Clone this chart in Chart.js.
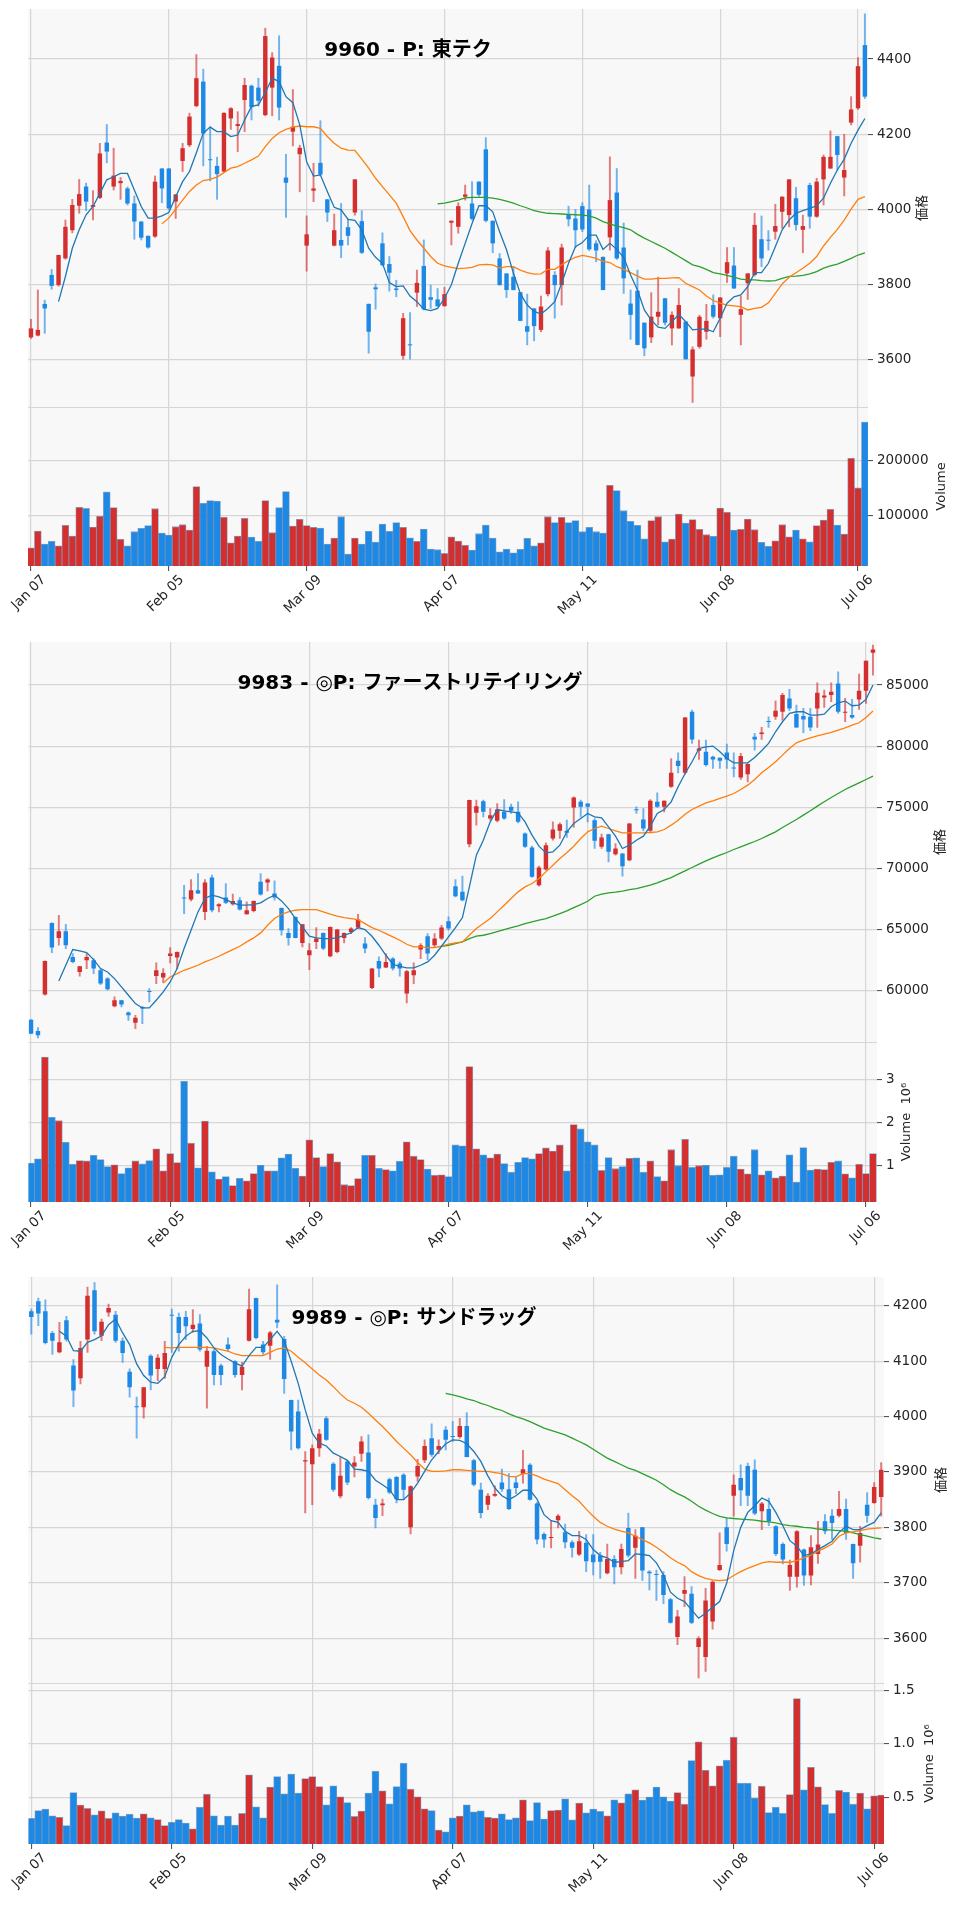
<!DOCTYPE html>
<html lang="ja">
<head>
<meta charset="UTF-8" />
<title>Candlestick panels</title>
<script src="https://cdn.jsdelivr.net/npm/chart.js@4"></script>
<style>
	body { margin: 0; background: #ffffff; }
	#wrap { position: relative; width: 960px; height: 1911px; overflow: hidden; background: #ffffff; }
	#wrap canvas { position: absolute; left: 0; }
</style>
</head>
<body>
<div id="wrap"></div>
<script>
const tickIndex = [0, 20, 40, 60, 80, 100, 120];
const tickLabels = ['Jan 07', 'Feb 05', 'Mar 09', 'Apr 07', 'May 11', 'Jun 08', 'Jul 06'];
const maStart = [4, 19, 59];

// 9960 東テク
const open9960 = [3660,3665,3749,3826,3799,3870,3945,4010,4061,4007,4031,4178,4061,4070,4056,4016,3968,3930,3928,4109,4109,4021,4129,4171,4275,4340,4133,4116,4101,4242,4222,4291,4329,4324,4251,4324,4382,4085,4207,4147,3904,4050,4124,4027,3904,3919,3953,3992,3969,3749,3793,3910,3855,3790,3611,3641,3779,3850,3767,3761,3743,3965,3954,4034,4016,4074,4160,3970,3870,3830,3821,3780,3690,3737,3680,3775,3826,3799,3988,3976,4009,4000,3910,3874,3926,4045,3899,3750,3784,3699,3660,3715,3764,3684,3684,3702,3556,3635,3675,3746,3711,3830,3851,3720,3804,3826,3921,3918,3941,3994,3985,4030,3946,4065,3981,4080,4109,4195,4085,4231,4269,4437];
const high9960 = [3708,3786,3759,3841,3879,3972,4027,4080,4070,4050,4176,4226,4163,4085,4060,4036,3968,3930,4089,4109,4109,4040,4176,4256,4412,4373,4220,4139,4257,4271,4260,4349,4331,4349,4482,4417,4462,4147,4319,4171,3983,4123,4236,4027,3988,4016,3975,4080,3997,3749,3802,3938,3875,3812,3724,3726,3839,3919,3799,3790,3793,3970,4018,4065,4074,4074,4191,3970,3883,3830,3848,3780,3775,3737,3770,3899,3835,3908,4009,4000,4018,4065,3917,3874,4140,4109,3964,3786,3839,3699,3779,3820,3764,3728,3790,3702,3635,3719,3748,3773,3766,3899,3899,3770,3830,3990,3983,3944,4014,4034,4080,4059,3985,4070,4083,4145,4209,4195,4200,4300,4404,4520];
const low9960 = [3657,3664,3671,3788,3796,3868,3938,3990,3997,3972,4029,4124,4052,4027,4012,3921,3919,3897,3926,4018,4000,3976,4101,4167,4273,4116,4076,4027,4098,4213,4154,4207,4238,4275,4249,4249,4238,3979,4169,4047,3836,4021,4089,3968,3903,3872,3906,3985,3883,3618,3735,3850,3783,3768,3602,3602,3742,3733,3737,3742,3743,3906,3937,4025,3972,4035,3967,3885,3799,3766,3786,3704,3640,3651,3675,3770,3711,3746,3956,3899,3941,3891,3861,3786,3892,3867,3777,3655,3640,3611,3646,3693,3693,3640,3684,3602,3487,3631,3655,3711,3662,3806,3790,3640,3761,3823,3848,3892,3921,3950,3954,3945,3885,3950,3979,4012,4109,4105,4036,4225,4266,4295];
const close9960 = [3684,3680,3737,3797,3879,3954,4012,4041,4021,4012,4149,4154,4090,4076,4016,3968,3925,3899,4074,4056,4003,4040,4163,4247,4349,4202,4131,4094,4257,4269,4227,4331,4272,4289,4461,4404,4271,4071,4220,4164,3934,4056,4093,3992,3945,3904,3930,4080,3885,3675,3788,3852,3832,3786,3711,3639,3805,3735,3760,3743,3775,3970,4009,4040,3975,4039,3970,3910,3799,3786,3786,3704,3675,3690,3742,3891,3799,3899,3974,3945,3947,3894,3891,3786,4025,3870,3817,3720,3640,3631,3715,3728,3699,3720,3746,3602,3628,3715,3704,3715,3766,3860,3790,3735,3830,3959,3870,3917,3956,4034,4080,3959,3956,3981,4074,4140,4140,4145,4105,4266,4381,4300];
const vol9960 = [42200,72300,48800,53600,45800,82500,63300,115000,113000,79500,98800,142800,114500,57200,45800,71100,77100,82000,112600,68700,65100,80100,83700,74100,152400,122300,127100,126500,97000,51200,63300,95200,61400,53600,127100,69300,114500,143400,81300,93400,82000,78900,77700,48800,59600,98200,30700,59600,48800,71700,52400,84900,71700,87400,78900,60200,53600,75900,39800,38600,31900,62000,54200,46400,38000,67500,83100,59600,34900,39800,33100,39200,59000,45800,51200,98200,87400,97000,87400,91000,71100,78900,71100,68700,154800,145200,109000,89800,82500,58400,91000,98200,53000,57800,103000,86700,92800,75300,65700,62700,113900,106000,74100,75300,94000,74700,51800,44600,54800,83700,62000,74100,58400,53000,82000,92200,111400,83100,66900,203600,150000,268700];
const ma5_9960 = [3755,3822,3897,3946,3986,4008,4043,4079,4087,4096,4096,4052,4008,3977,3977,3983,3992,4034,4074,4101,4151,4203,4219,4207,4207,4194,4198,4238,4274,4278,4311,4349,4340,4300,4284,4225,4127,4089,4092,4048,4006,3999,3974,3971,3946,3897,3873,3857,3806,3795,3797,3770,3755,3735,3731,3737,3764,3800,3857,3910,3963,4010,4010,3994,3941,3893,3831,3777,3746,3729,3722,3737,3755,3804,3857,3901,3912,3932,3932,3894,3910,3894,3873,3826,3786,3733,3706,3687,3684,3702,3721,3702,3680,3682,3682,3675,3711,3751,3768,3773,3795,3832,3832,3857,3901,3946,3972,3990,3997,4003,4010,4030,4070,4105,4134,4176,4211,4242];
const ma20_9960 = [3962,3977,4001,4025,4048,4065,4077,4080,4086,4098,4110,4114,4123,4132,4142,4167,4189,4204,4213,4219,4222,4220,4220,4216,4194,4176,4163,4158,4157,4134,4110,4083,4061,4039,4017,3981,3944,3919,3897,3875,3857,3850,3846,3843,3844,3846,3853,3854,3853,3844,3848,3848,3839,3832,3828,3829,3841,3841,3853,3864,3873,3878,3875,3870,3862,3859,3848,3841,3832,3823,3815,3815,3817,3817,3818,3819,3804,3795,3786,3770,3758,3751,3746,3744,3742,3733,3737,3740,3752,3777,3802,3820,3832,3844,3857,3875,3903,3926,3947,3972,4001,4027,4034];
const ma60_9960 = [4015,4017,4021,4025,4031,4032,4032,4032,4030,4027,4022,4017,4010,4004,3997,3993,3990,3989,3988,3987,3986,3985,3983,3977,3968,3962,3956,3952,3946,3934,3924,3915,3906,3897,3886,3875,3864,3853,3848,3841,3832,3829,3825,3820,3815,3813,3813,3811,3810,3811,3817,3822,3823,3825,3829,3835,3844,3850,3855,3862,3870,3879,3885];
const priceTicks9960 = [3600, 3800, 4000, 4200, 4400];
const volTicks9960 = [100000, 200000];

// 9983 ファーストリテイリング
const open9983 = [57658,56730,59702,65563,64337,64882,62783,61556,62510,62510,61692,61011,58749,59240,58231,57413,58694,60002,61229,61093,62865,62728,67636,67473,68236,66463,69271,66925,67636,67091,67418,66273,66545,68917,68862,67963,66790,64746,66054,63928,62920,64010,64746,62838,63192,64337,64828,65182,63873,60248,62456,61911,62647,62238,59784,61284,63383,64473,63737,64282,65700,68562,68099,72000,74560,75514,74096,73905,74642,75050,74642,72869,71725,68644,69925,72460,73088,73088,74996,75459,75323,73960,71779,72815,71180,71234,70688,74832,74014,73088,75459,75050,76686,78812,77830,82820,79629,79548,79139,79057,79493,78267,77449,77721,80775,80993,82056,82410,82819,83910,82628,82465,82410,83092,83991,84182,85136,82737,82546,83828,84537,87644];
const high9983 = [57658,57006,62456,65563,66190,65455,63056,62020,63056,62647,61829,61093,59512,59240,58286,58013,58749,60193,62293,61829,63546,63192,68644,69108,69598,69108,69462,67145,68780,67909,67636,67281,67363,69598,69190,68999,66790,65101,66054,65455,63873,65182,64746,65237,65019,64746,65182,66272,64364,61829,62783,63056,62728,62374,61692,62293,63873,64692,64692,65373,66054,69108,69380,75600,75600,75600,74915,75323,75650,75269,75459,72924,71834,70198,72106,73823,73741,73960,75868,75596,75323,74096,72815,72815,72052,71234,73686,75050,74914,75650,76195,75541,79002,79467,82356,82956,80502,80502,79194,79057,80175,79467,79412,78594,81047,81538,82410,83719,84318,84645,83364,83092,83092,85191,84591,85191,86090,83910,83828,85899,86990,88271];
const low9983 = [56513,56158,59648,63137,63737,63464,62293,61202,61829,61420,60520,60057,58694,58694,57603,56922,57331,59103,60602,60684,62293,61829,66327,67363,67963,65836,66463,66463,67145,67009,66599,66273,66463,67826,68180,67418,64555,63737,64337,63601,61747,63464,63383,62783,63110,63928,64692,65101,63110,60193,61147,61911,61692,61202,59022,60602,62647,62565,63601,64201,64964,67690,67363,71780,73550,74233,73960,73823,74014,74505,73741,71725,69271,68562,69870,72324,72460,72542,73360,74233,73823,71643,71643,70552,71097,69380,70634,74505,73088,73005,74996,74642,76631,77830,77721,80230,78921,78376,78185,78185,78185,77503,77285,77095,79684,80557,81538,82192,82137,82901,81538,81102,81266,81538,83173,83637,82683,82001,82274,83010,83500,85817];
const close9983 = [56513,56377,62456,63546,64882,63737,62374,62020,62783,61829,60602,60138,59240,58885,58013,57821,58558,59921,61692,61474,63056,63192,67554,68236,67963,68862,66599,67091,67200,67363,66654,66599,67363,67881,69108,67636,64964,64337,64337,65455,63328,64282,63464,65237,65019,64746,65101,65836,63464,61829,61829,62374,61829,61829,61611,61692,63737,63056,64282,65182,65101,67745,67418,75600,75105,74642,74369,74833,74096,74724,73823,71779,69325,70089,71915,73192,73632,72924,75814,75050,75050,72270,72542,71370,71643,70198,73686,74778,73278,75541,75050,75541,77830,78376,82356,80557,79820,78458,78921,78812,78921,78185,79194,78540,80557,81129,81974,82901,84182,83092,81538,82192,81538,84373,84155,84455,82819,82819,82356,84537,86990,87917];
const vol9983 = [1.06,1.16,3.51,2.12,2.04,1.54,1.03,1.12,1.11,1.24,1.14,0.98,1.02,0.82,0.95,1.11,1.04,1.12,1.39,0.88,1.28,1.07,2.95,1.52,0.95,2.03,0.86,0.69,0.75,0.54,0.71,0.65,0.82,1.01,0.88,0.88,1.18,1.27,0.94,0.76,1.60,1.19,0.98,1.28,1.09,0.56,0.54,0.70,1.24,1.24,0.94,0.91,0.88,1.10,1.55,1.22,1.14,0.92,0.78,0.79,0.75,1.48,1.46,3.29,1.39,1.25,1.18,1.27,1.05,0.85,1.08,1.19,1.16,1.28,1.41,1.34,1.48,0.88,1.95,1.85,1.55,1.48,0.89,1.19,0.93,0.98,1.17,1.18,0.85,1.11,0.75,0.65,1.37,1.00,1.61,0.96,1.00,1.01,0.78,0.79,0.96,1.22,0.92,0.81,1.37,0.79,0.88,0.72,0.76,1.25,0.62,1.42,0.90,0.92,0.91,1.08,1.11,0.81,0.72,1.03,0.82,1.28];
const ma5_9983 = [60820,62101,63383,63274,63137,62565,61829,61557,61011,60330,59648,58967,58612,58612,59240,59921,60739,61829,63465,64964,66463,67555,67827,67690,67472,67199,67008,67008,67062,67199,67555,67827,67363,66736,65918,65236,64473,64337,64282,64282,64337,64555,64745,65182,65018,64473,63737,62919,62184,62020,61884,61884,62101,62374,62919,63655,64419,65182,66000,68508,71097,72324,73823,74832,74723,74641,74559,73823,72733,71834,71288,71370,71915,73005,73687,74096,74505,74232,74150,73414,72651,71643,71915,72324,72651,73469,74505,74832,75459,76686,77776,78730,79820,79957,80011,79548,79002,78648,78648,78648,79085,79630,80229,81184,82001,82683,82819,82819,82547,82547,82628,83228,83555,83692,83310,83364,83828,85000];
const ma20_9983 = [60657,61147,61420,61693,61883,62101,62374,62592,62838,63110,63383,63655,64010,64337,64746,65373,65918,66272,66463,66599,66654,66654,66654,66463,66272,66109,66000,65918,65836,65509,65182,64964,64691,64419,64146,63819,63601,63601,63546,63546,63655,63819,63928,64010,64555,65100,65509,65918,66463,67008,67555,68099,68508,68780,69189,69734,70280,70825,71289,71834,72460,73005,73278,73469,73278,73087,72924,72924,72924,72924,72951,73005,73196,73551,73960,74450,74832,75105,75377,75541,75732,75923,76140,76468,76822,77285,77830,78267,78730,79275,79820,80284,80502,80689,80856,80993,81129,81320,81511,81729,81920,82356,82874];
const ma60_9983 = [63655,63737,63874,64010,64283,64474,64555,64691,64855,65018,65182,65318,65509,65645,65782,65918,66109,66327,66545,66818,67063,67335,67744,67908,68017,68071,68153,68290,68371,68508,68644,68835,69053,69271,69544,69817,70089,70362,70634,70880,71098,71316,71561,71779,71997,72215,72460,72733,73005,73360,73687,74014,74369,74723,75105,75459,75814,76140,76468,76740,77013,77285,77558];
const priceTicks9983 = [60000, 65000, 70000, 75000, 80000, 85000];
const volTicks9983 = [1, 2, 3];

// 9989 サンドラッグ
const open9989 = [4190,4208,4190,4151,4116,4174,4092,4069,4139,4228,4146,4188,4184,4137,4081,4018,4017,4110,4086,4086,4184,4180,4180,4158,4168,4090,4118,4092,4130,4100,4075,4137,4214,4130,4128,4175,4140,4030,4009,3919,3914,3943,3997,3915,3856,3919,3910,3933,3935,3841,3840,3887,3891,3895,3800,3892,3921,3961,3940,3976,3964,3963,3983,3921,3868,3841,3857,3881,3869,3881,3897,3913,3843,3788,3781,3813,3791,3773,3751,3772,3751,3749,3717,3743,3728,3799,3763,3800,3720,3716,3714,3670,3602,3680,3680,3584,3566,3630,3723,3800,3857,3889,3911,3904,3829,3833,3802,3770,3711,3711,3760,3713,3752,3811,3821,3821,3833,3770,3767,3841,3844,3855];
const high9989 = [4194,4214,4211,4154,4170,4181,4103,4136,4234,4242,4176,4203,4190,4142,4086,4035,4053,4112,4112,4136,4194,4187,4190,4193,4184,4127,4121,4095,4142,4101,4098,4230,4214,4136,4154,4238,4145,4030,4030,3937,3949,3977,4000,3917,3928,3921,3928,3964,3967,3851,3851,3889,3892,3897,3875,3923,3958,3987,3958,3982,3991,3997,4007,3923,3880,3861,3875,3905,3897,3891,3939,3915,3845,3790,3812,3823,3806,3776,3793,3787,3787,3755,3770,3749,3770,3826,3796,3800,3722,3723,3720,3672,3650,3711,3693,3603,3690,3704,3790,3817,3895,3913,3916,3922,3845,3853,3803,3772,3741,3794,3761,3785,3811,3823,3832,3865,3851,3770,3802,3863,3881,3917];
const low9989 = [4149,4164,4131,4112,4115,4136,4018,4059,4116,4149,4137,4181,4134,4098,4035,3961,3997,4048,4065,4069,4116,4118,4139,4152,4118,4015,4057,4057,4118,4071,4048,4136,4140,4112,4103,4160,4042,3940,3941,3826,3841,3928,3957,3865,3853,3877,3891,3919,3851,3799,3821,3861,3844,3850,3788,3883,3917,3928,3933,3940,3955,3961,3927,3875,3817,3832,3856,3865,3832,3861,3880,3849,3770,3764,3763,3799,3763,3746,3749,3720,3714,3708,3716,3698,3716,3746,3708,3704,3687,3668,3662,3627,3588,3657,3626,3528,3540,3616,3722,3757,3820,3839,3839,3823,3796,3803,3749,3734,3686,3692,3695,3696,3735,3788,3778,3819,3778,3708,3737,3809,3843,3820];
const close9989 = [4180,4186,4133,4137,4134,4139,4047,4124,4218,4154,4171,4196,4137,4115,4053,4017,4053,4074,4106,4115,4182,4151,4163,4166,4121,4119,4075,4075,4122,4075,4090,4194,4142,4116,4152,4170,4068,3973,3943,3921,3943,3969,3958,3868,3893,3881,3917,3955,3853,3817,3843,3863,3851,3868,3874,3911,3947,3931,3947,3958,3963,3983,3927,3877,3826,3857,3860,3869,3833,3871,3905,3850,3778,3778,3782,3821,3773,3763,3775,3739,3737,3738,3743,3728,3761,3749,3785,3722,3717,3714,3678,3628,3639,3687,3628,3600,3668,3702,3732,3770,3877,3867,3857,3825,3843,3811,3752,3742,3732,3793,3713,3764,3769,3793,3808,3833,3790,3735,3790,3821,3873,3904];
const vol9989 = [0.300,0.375,0.388,0.325,0.310,0.234,0.544,0.425,0.394,0.334,0.372,0.300,0.353,0.322,0.340,0.303,0.344,0.306,0.290,0.234,0.263,0.290,0.256,0.203,0.406,0.528,0.325,0.238,0.322,0.238,0.347,0.709,0.410,0.306,0.594,0.694,0.531,0.716,0.538,0.675,0.694,0.600,0.428,0.606,0.503,0.450,0.319,0.369,0.538,0.744,0.559,0.438,0.600,0.819,0.575,0.503,0.391,0.375,0.191,0.175,0.306,0.322,0.428,0.363,0.372,0.310,0.303,0.344,0.290,0.306,0.475,0.281,0.450,0.294,0.375,0.378,0.484,0.288,0.444,0.353,0.388,0.366,0.325,0.475,0.447,0.531,0.569,0.472,0.500,0.594,0.503,0.463,0.544,0.434,0.844,1.019,0.753,0.606,0.794,0.847,1.063,0.631,0.631,0.491,0.603,0.356,0.406,0.347,0.525,1.425,0.569,0.781,0.597,0.431,0.347,0.563,0.547,0.434,0.538,0.391,0.513,0.519];
const ma5_9989 = [4154,4145,4119,4118,4134,4139,4146,4166,4176,4151,4130,4095,4074,4062,4060,4072,4107,4130,4145,4154,4155,4142,4124,4112,4104,4097,4091,4110,4125,4125,4139,4154,4137,4100,4060,4012,3970,3952,3947,3934,3928,3921,3905,3904,3901,3885,3877,3868,3850,3850,3862,3880,3901,3922,3937,3951,3958,3957,3951,3937,3919,3893,3871,3857,3850,3857,3867,3867,3851,3823,3812,3809,3793,3785,3785,3778,3760,3749,3745,3737,3738,3740,3752,3751,3749,3736,3714,3683,3672,3666,3651,3636,3645,3656,3666,3699,3758,3800,3827,3839,3853,3847,3827,3803,3776,3766,3749,3752,3760,3767,3775,3791,3802,3796,3796,3803,3809,3826];
const ma20_9989 = [4125,4124,4125,4125,4125,4125,4125,4124,4121,4118,4113,4110,4110,4110,4110,4116,4122,4124,4118,4107,4097,4086,4075,4066,4054,4041,4030,4024,4017,4006,3994,3982,3969,3955,3943,3931,3917,3905,3901,3901,3902,3904,3904,3903,3902,3901,3901,3899,3897,3892,3891,3897,3897,3893,3887,3883,3879,3868,3857,3847,3833,3820,3809,3802,3797,3793,3790,3784,3778,3772,3764,3755,3745,3737,3731,3720,3713,3708,3705,3704,3705,3713,3720,3726,3731,3736,3738,3737,3737,3737,3740,3745,3750,3757,3763,3770,3784,3790,3792,3794,3797,3798,3799];
const ma60_9989 = [4042,4039,4036,4032,4029,4024,4020,4015,4011,4005,4000,3996,3991,3985,3979,3975,3971,3967,3961,3955,3949,3941,3933,3925,3919,3913,3907,3903,3897,3891,3885,3877,3868,3861,3855,3847,3838,3831,3825,3820,3817,3816,3815,3814,3813,3811,3810,3808,3805,3803,3802,3800,3799,3797,3796,3795,3794,3793,3790,3787,3784,3781,3779];
const priceTicks9989 = [3600, 3700, 3800, 3900, 4000, 4100, 4200];
const volTicks9989 = [0.5, 1.0, 1.5];

const FONT = '"DejaVu Sans", "Noto Sans CJK JP", sans-serif';
const UP = '#d32f2f';
const DOWN = '#1e88e5';
const UP_WICK = 'rgba(211, 47, 47, 0.62)';
const DOWN_WICK = 'rgba(30, 136, 229, 0.62)';
const MA_COLORS = ['#1f77b4', '#ff7f0e', '#2ca02c'];
const GRID = '#d6d6d6';
const TEXT = '#262626';
const PAD_TOP = 8;
const X_AXIS_H = 70;

Chart.defaults.font.family = FONT;
Chart.defaults.font.size = 13.5;
Chart.defaults.color = TEXT;

const panels = [
	{
		title: '9960 - P: 東テク',
		open: open9960, high: high9960, low: low9960, close: close9960, volume: vol9960,
		ma: [ma5_9960, ma20_9960, ma60_9960],
		priceTicks: priceTicks9960, volTicks: volTicks9960,
		priceRange: [3475, 4533], volRange: [9200, 296000],
		volLabel: 'Volume', volFormat: (v) => String(v),
		box: { priceTop: 9, priceBottom: 407, volBottom: 566, left: 28, right: 868, xMin: -0.43, xMax: 121.45, titleX: 408, priceLabelDx: 55, volLabelDx: 74 },
	},
	{
		title: '9983 - ◎P: ファーストリテイリング',
		open: open9983, high: high9983, low: low9983, close: close9983, volume: vol9983,
		ma: [ma5_9983, ma20_9983, ma60_9983],
		priceTicks: priceTicks9983, volTicks: volTicks9983,
		priceRange: [55830, 88520], volRange: [0.16, 3.86],
		volLabel: 'Volume  10⁶', volFormat: (v) => String(v),
		box: { priceTop: 642, priceBottom: 1042, volBottom: 1202, left: 28.5, right: 877, xMin: -0.36, xMax: 121.58, titleX: 410, priceLabelDx: 64, volLabelDx: 30 },
	},
	{
		title: '9989 - ◎P: サンドラッグ',
		open: open9989, high: high9989, low: low9989, close: close9989, volume: vol9989,
		ma: [ma5_9989, ma20_9989, ma60_9989],
		priceTicks: priceTicks9989, volTicks: volTicks9989,
		priceRange: [3519, 4252], volRange: [0.06, 1.572],
		volLabel: 'Volume  10⁶', volFormat: (v) => v.toFixed(1),
		box: { priceTop: 1277, priceBottom: 1683, volBottom: 1844, left: 28.5, right: 884, xMin: -0.4, xMax: 121.4, titleX: 414, priceLabelDx: 58, volLabelDx: 46 },
	},
];

const addCanvas = (top, height) => {
	const canvas = document.createElement('canvas');
	canvas.width = 960;
	canvas.height = height;
	canvas.style.top = `${top}px`;
	document.getElementById('wrap').appendChild(canvas);
	return canvas;
};

const plotBackground = {
	id: 'plotBackground',
	beforeDraw(chart) {
		const { ctx, chartArea: a } = chart;
		ctx.save();
		ctx.fillStyle = '#f8f8f8';
		ctx.fillRect(a.left, a.top, a.right - a.left, a.bottom - a.top);
		ctx.restore();
	},
};

// thin rule where the volume panel meets the price panel
const panelSeam = {
	id: 'panelSeam',
	beforeDatasetsDraw(chart) {
		const { ctx, chartArea: a } = chart;
		ctx.save();
		ctx.strokeStyle = GRID;
		ctx.lineWidth = 1.2;
		ctx.beginPath();
		ctx.moveTo(a.left, a.top + 0.5);
		ctx.lineTo(a.right, a.top + 0.5);
		ctx.stroke();
		ctx.restore();
	},
};

const sideLabel = (text, dx) => ({
	id: 'sideLabel',
	afterDraw(chart) {
		const { ctx, chartArea: a } = chart;
		ctx.save();
		ctx.translate(a.right + dx, (a.top + a.bottom) / 2);
		ctx.rotate(-Math.PI / 2);
		ctx.font = `13px ${FONT}`;
		ctx.fillStyle = TEXT;
		ctx.textAlign = 'center';
		ctx.textBaseline = 'middle';
		ctx.fillText(text, 0, 0);
		ctx.restore();
	},
});

const panelTitle = (text, x) => ({
	id: 'panelTitle',
	afterDraw(chart) {
		const { ctx, chartArea: a } = chart;
		ctx.save();
		ctx.font = `bold 20px ${FONT}`;
		ctx.fillStyle = '#000000';
		ctx.textAlign = 'center';
		ctx.textBaseline = 'middle';
		ctx.fillText(text, x, a.top + 42);
		ctx.restore();
	},
});

// fixed axis sizes so the plot areas line up with the reference
const xScale = (box, showLabels) => ({
	type: 'linear',
	min: box.xMin,
	max: box.xMax,
	offset: false,
	afterBuildTicks: (scale) => { scale.ticks = tickIndex.map((value) => ({ value })); },
	afterFit: (scale) => {
		scale.height = showLabels ? X_AXIS_H : 0;
		scale.paddingLeft = 0;
		scale.paddingRight = 0;
	},
	grid: { color: GRID, lineWidth: 1.2, offset: false, drawTicks: showLabels, tickLength: 5, tickColor: '#444444', tickWidth: 1 },
	border: { display: false },
	ticks: {
		display: showLabels,
		autoSkip: false,
		maxRotation: 45,
		minRotation: 45,
		padding: 1,
		labelOffset: 13,
		callback: (value) => tickLabels[tickIndex.indexOf(value)],
	},
});

const yScale = (box, range, ticks, format) => ({
	position: 'right',
	min: range[0],
	max: range[1],
	afterBuildTicks: (scale) => { scale.ticks = ticks.map((value) => ({ value })); },
	afterFit: (scale) => {
		scale.width = 960 - box.right;
		scale.paddingTop = 0;
		scale.paddingBottom = 0;
	},
	grid: { color: GRID, lineWidth: 1.2, tickLength: 5, tickColor: '#444444', tickWidth: 1 },
	border: { display: false },
	ticks: { padding: 4, callback: format },
});

const baseOptions = (box) => ({
	responsive: false,
	animation: false,
	events: [],
	layout: { padding: { left: box.left, top: PAD_TOP, right: 0, bottom: 0 } },
	plugins: { legend: { display: false }, tooltip: { enabled: false } },
});

const drawPanel = (p) => {
	const { box } = p;
	const colors = p.close.map((c, i) => (c >= p.open[i] ? UP : DOWN));
	const wickColors = p.close.map((c, i) => (c >= p.open[i] ? UP_WICK : DOWN_WICK));

	const priceCanvas = addCanvas(box.priceTop - PAD_TOP, box.priceBottom - box.priceTop + PAD_TOP);
	new Chart(priceCanvas, {
		type: 'bar',
		data: {
			datasets: [
				...p.ma.map((values, k) => ({
					type: 'line',
					data: values.map((y, j) => ({ x: maStart[k] + j, y })),
					borderColor: MA_COLORS[k],
					borderWidth: 1.3,
					pointRadius: 0,
					fill: false,
					order: 0,
				})),
				{
					data: p.open.map((o, i) => ({ x: i, y: [o, p.close[i]] })),
					backgroundColor: colors,
					barPercentage: 0.64,
					categoryPercentage: 1,
					grouped: false,
					minBarLength: 1,
					order: 1,
				},
				{
					data: p.low.map((l, i) => ({ x: i, y: [l, p.high[i]] })),
					backgroundColor: wickColors,
					barThickness: 1.3,
					grouped: false,
					order: 2,
				},
			],
		},
		options: {
			...baseOptions(box),
			scales: {
				x: xScale(box, false),
				y: yScale(box, p.priceRange, p.priceTicks, (v) => String(v)),
			},
		},
		plugins: [plotBackground, panelTitle(p.title, box.titleX), sideLabel('価格', box.priceLabelDx)],
	});

	const volCanvas = addCanvas(box.priceBottom - PAD_TOP, box.volBottom - box.priceBottom + PAD_TOP + X_AXIS_H);
	new Chart(volCanvas, {
		type: 'bar',
		data: {
			datasets: [{
				data: p.volume.map((v, i) => ({ x: i, y: v })),
				backgroundColor: colors,
				borderColor: 'rgba(25, 80, 140, 0.5)',
				borderWidth: 0.8,
				barPercentage: 1,
				categoryPercentage: 1,
				grouped: false,
			}],
		},
		options: {
			...baseOptions(box),
			scales: {
				x: xScale(box, true),
				y: yScale(box, p.volRange, p.volTicks, p.volFormat),
			},
		},
		plugins: [plotBackground, panelSeam, sideLabel(p.volLabel, box.volLabelDx)],
	});
};

panels.forEach(drawPanel);
</script>
</body>
</html>
